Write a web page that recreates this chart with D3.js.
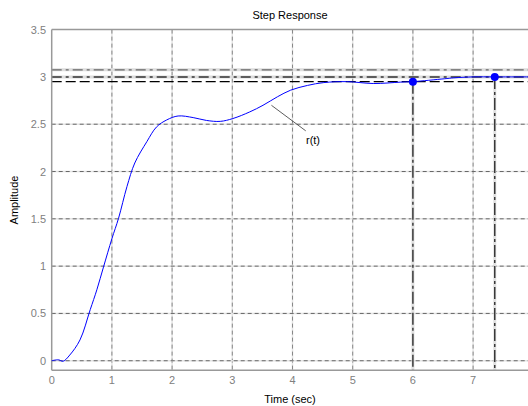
<!DOCTYPE html>
<html><head><meta charset="utf-8">
<script src="https://cdn.jsdelivr.net/npm/d3@7"></script>
<style>body{margin:0;background:#fff}svg{display:block}text{font-family:"Liberation Sans",Arial,sans-serif}</style>
</head><body><svg id="c" width="528" height="406"></svg>
<script>
const timeValues = [0,0.11,0.19,0.3,0.47,0.64,0.75,0.86,1.0,1.11,1.25,1.38,1.58,1.74,1.91,2.1,2.35,2.57,2.8,3.01,3.29,3.51,3.75,3.97,4.25,4.52,4.9,5.35,5.8,6.0,6.52,6.68,7.0,7.36,8.0];
const ampValues  = [0,0.01,-0.005,0.06,0.22,0.54,0.75,0.99,1.29,1.505,1.84,2.09,2.315,2.47,2.545,2.587,2.57,2.54,2.53,2.56,2.63,2.70,2.79,2.86,2.91,2.94,2.95,2.93,2.945,2.95,2.98,2.99,3.0,3.0,3.0];
const xTicks = [0,1,2,3,4,5,6,7];
const yTicks = [0,0.5,1,1.5,2,2.5,3,3.5];
const yTickLabels = ["0","0.5","1","1.5","2","2.5","3","3.5"];
const refLevels = [3.075,3.0,2.95];
const markerT = [6.0,7.36];
const markerA = [2.95,3.0];

const svg = d3.select("#c");
const x = d3.scaleLinear().domain([0,8]).range([51.7,533.3]);
const y = d3.scaleLinear().domain([-0.1,3.5]).range([370.2,29.6]);
const L=51.7, R=528, T=29.6, B=370.2;

const grid = svg.append("g");
xTicks.slice(1).forEach(t=>{
  grid.append("line").attr("x1",x(t)).attr("x2",x(t)).attr("y1",T).attr("y2",B).attr("stroke","#e4e4e4").attr("stroke-width",1.5);
  grid.append("line").attr("x1",x(t)).attr("x2",x(t)).attr("y1",T).attr("y2",B).attr("stroke","#888").attr("stroke-dasharray","4,3");
});
yTicks.slice(0,7).forEach(v=>{
  grid.append("line").attr("x1",L).attr("x2",R).attr("y1",y(v)).attr("y2",y(v)).attr("stroke","#e4e4e4").attr("stroke-width",1.5);
  grid.append("line").attr("x1",L).attr("x2",R).attr("y1",y(v)).attr("y2",y(v)).attr("stroke","#666").attr("stroke-dasharray","4,3");
});

// reference lines
svg.append("line").attr("x1",L).attr("x2",R).attr("y1",y(refLevels[0])).attr("y2",y(refLevels[0])).attr("stroke","#ddd").attr("stroke-width",3);
svg.append("line").attr("x1",L).attr("x2",R).attr("y1",y(refLevels[0])).attr("y2",y(refLevels[0])).attr("stroke","#666").attr("stroke-width",1.2).attr("stroke-dasharray","10,4,3,4");
svg.append("line").attr("x1",L).attr("x2",R).attr("y1",y(refLevels[1])).attr("y2",y(refLevels[1])).attr("stroke","#ddd").attr("stroke-width",3);
svg.append("line").attr("x1",L).attr("x2",R).attr("y1",y(refLevels[1])).attr("y2",y(refLevels[1])).attr("stroke","#333").attr("stroke-width",1.5).attr("stroke-dasharray","10,4,3,4");
svg.append("line").attr("x1",L).attr("x2",R).attr("y1",y(refLevels[2])).attr("y2",y(refLevels[2])).attr("stroke","#000").attr("stroke-width",1.2).attr("stroke-dasharray","10,4");

// vertical marker lines
markerT.forEach((t,i)=>{
  svg.append("line").attr("x1",x(t)).attr("x2",x(t)).attr("y1",y(markerA[i])).attr("y2",B).attr("stroke","#e0e0e0").attr("stroke-width",3);
  svg.append("line").attr("x1",x(t)).attr("x2",x(t)).attr("y1",y(markerA[i])).attr("y2",B).attr("stroke","#222").attr("stroke-width",1.3).attr("stroke-dasharray","12,3,3,3");
});

// axes
svg.append("line").attr("x1",L).attr("x2",R).attr("y1",T).attr("y2",T).attr("stroke","#999").attr("stroke-width",1.5);
svg.append("line").attr("x1",L).attr("x2",L).attr("y1",T).attr("y2",B).attr("stroke","#999").attr("stroke-width",1.5);
svg.append("line").attr("x1",L).attr("x2",R).attr("y1",B).attr("y2",B).attr("stroke","#999").attr("stroke-width",1.5);

// curve
const line = d3.line().x((d,i)=>x(timeValues[i])).y((d,i)=>y(ampValues[i])).curve(d3.curveCatmullRom);
svg.append("path").datum(ampValues).attr("d",line).attr("fill","none").attr("stroke","#0000ff").attr("stroke-width",1);

markerT.forEach((t,i)=>{
  svg.append("circle").attr("cx",x(t)).attr("cy",y(markerA[i])).attr("r",4).attr("fill","#0000ff");
});

// tick labels
xTicks.forEach(t=>{
  svg.append("text").attr("x",x(t)).attr("y",384).attr("text-anchor","middle").attr("font-size",11).attr("fill","#808080").text(t);
});
yTicks.forEach((v,i)=>{
  svg.append("text").attr("x",46).attr("y",y(v)+4).attr("text-anchor","end").attr("font-size",11).attr("fill","#808080").text(yTickLabels[i]);
});

// titles
svg.append("text").attr("x",290).attr("y",19).attr("text-anchor","middle").attr("font-size",11).attr("fill","#000").text("Step Response");
svg.append("text").attr("x",290).attr("y",403).attr("text-anchor","middle").attr("font-size",11).attr("fill","#000").text("Time (sec)");
svg.append("text").attr("transform","translate(18,200) rotate(-90)").attr("text-anchor","middle").attr("font-size",11).attr("fill","#000").text("Amplitude");

// annotation
svg.append("line").attr("x1",x(3.65)).attr("y1",y(2.7)).attr("x2",x(4.22)).attr("y2",y(2.43)).attr("stroke","#333").attr("stroke-width",0.8);
svg.append("text").attr("x",313).attr("y",144).attr("text-anchor","middle").attr("font-size",11).attr("fill","#000").text("r(t)");
</script></body></html>
